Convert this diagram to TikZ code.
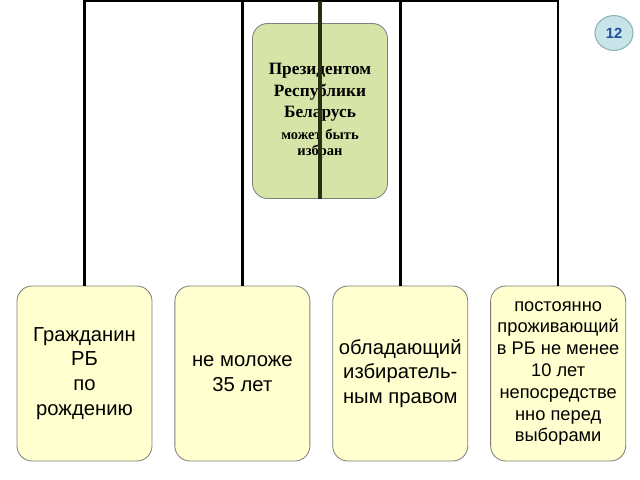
\documentclass[tikz,border=0pt]{standalone}
\usepackage{fontspec}
\setmainfont{Liberation Sans}
\newfontfamily\presfont{Liberation Serif}
\usepackage{tikz}
\usetikzlibrary{positioning,shapes.geometric}
\definecolor{condyellow}{HTML}{FFFFCF}
\definecolor{presgreen}{HTML}{D7E4A8}
\definecolor{boxgray}{HTML}{7F7F7F}
\definecolor{badgeblue}{HTML}{C9E4E9}
\definecolor{badgeedge}{HTML}{8DB5BC}
\definecolor{numblue}{HTML}{1F4F9C}
\definecolor{stemdark}{HTML}{2B2E12}
\newcommand{\smalltxt}{\fontsize{10.3}{12}\selectfont}

\begin{document}
\begin{tikzpicture}[
  x=0.025cm, y=-0.025cm,
  box/.style={draw=boxgray, line width=0.6pt, rounded corners=0.38cm, align=center, minimum width=3.375cm, minimum height=4.375cm, inner sep=2pt},
  cond/.style={box, fill=condyellow, font=\fontsize{14.4}{17.6}\selectfont},
  pres/.style={box, fill=presgreen, font=\presfont\bfseries\fontsize{12.3}{15.5}\selectfont},
  link/.style={line width=1.8pt, draw=black},
  stem/.style={line width=2.2pt, draw=stemdark},
  node distance=0.55cm
]
\useasboundingbox (0,0) rectangle (640,480);
\node[pres] (pres) at (320,111) {Президентом\\Республики\\Беларусь\\[-0.5pt]\smalltxt может быть\\[-3.5pt]\smalltxt избран};
% conditions row
\node[cond] (born) at (84.5,373.5) {Гражданин\\РБ\\по\\рождению};
\node[cond, right=of born] (age) {не моложе\\35 лет};
\node[cond, right=of age] (vote) {обладающий\\избиратель-\\ным правом};
\node[cond, font=\fontsize{13}{15.5}\selectfont, right=of vote] (live) {постоянно\\проживающий\\в РБ не менее\\10 лет\\непосредстве\\нно перед\\выборами};
\coordinate (top) at (320,1);
\draw[link] (born.north) -- (born.north |- top) -- (live.north |- top) -- (live.north);
\draw[link] (age.north) -- (age.north |- top);
\draw[link] (vote.north) -- (vote.north |- top);
\draw[stem] (top) -- (pres.south);
% slide number
\node[ellipse, draw=badgeedge, fill=badgeblue, line width=0.8pt, minimum width=0.95cm, minimum height=0.87cm, inner sep=0pt, text=numblue, font=\bfseries\fontsize{10.5}{12}\selectfont] (num) at (614,33) {12};
\end{tikzpicture}
\end{document}
